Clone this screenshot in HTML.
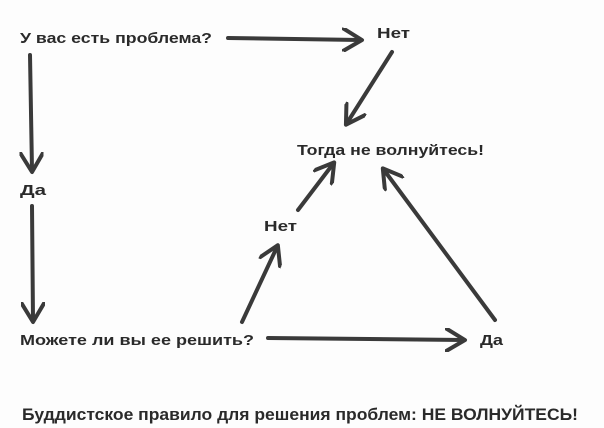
<!DOCTYPE html>
<html><head><meta charset="utf-8"><style>
body{margin:0;width:604px;height:428px;background:#fdfdfd;overflow:hidden}
svg{position:absolute;left:0;top:0}
text{font-family:"Liberation Sans","DejaVu Sans",sans-serif;font-weight:bold;fill:#2a2a2a}
</style></head><body>
<svg width="604" height="428" viewBox="0 0 604 428">
<defs><marker id="a" markerWidth="6" markerHeight="6" refX="4.5" refY="3" orient="auto" markerUnits="strokeWidth"><path d="M0,0 L5,3 L0,6" fill="none" stroke="#3a3a3a" stroke-width="1" stroke-linecap="round" stroke-linejoin="round"/></marker></defs>
<g stroke="#3a3a3a" stroke-width="4" stroke-linecap="round" fill="none" marker-end="url(#a)">
<path d="M228,38 L360,40"/>
<path d="M392,52 L347,123"/>
<path d="M30,55 L32,170"/>
<path d="M32,206 L33,320"/>
<path d="M268,338 L463,340"/>
<path d="M242,322 L277,247"/>
<path d="M298,210 L333,164"/>
<path d="M495,320 L384,170"/>
</g>
<text x="20" y="43" font-size="15" textLength="192" lengthAdjust="spacingAndGlyphs">У вас есть проблема?</text>
<text x="377" y="38" font-size="15" textLength="33" lengthAdjust="spacingAndGlyphs">Нет</text>
<text x="297" y="155" font-size="15" textLength="187" lengthAdjust="spacingAndGlyphs">Тогда не волнуйтесь!</text>
<text x="20" y="195" font-size="15" textLength="26" lengthAdjust="spacingAndGlyphs">Да</text>
<text x="264" y="231" font-size="15" textLength="33" lengthAdjust="spacingAndGlyphs">Нет</text>
<text x="20" y="345" font-size="15" textLength="234" lengthAdjust="spacingAndGlyphs">Можете ли вы ее решить?</text>
<text x="480" y="345" font-size="15" textLength="23" lengthAdjust="spacingAndGlyphs">Да</text>
<text x="22" y="420" font-size="17" textLength="556" lengthAdjust="spacingAndGlyphs">Буддистское правило для решения проблем: НЕ ВОЛНУЙТЕСЬ!</text>
</svg>
</body></html>
